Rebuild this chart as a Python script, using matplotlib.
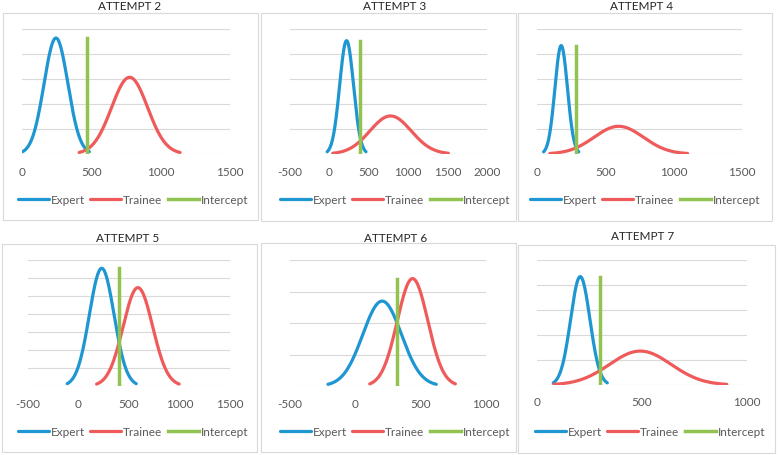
import numpy as np
import matplotlib
matplotlib.use('Agg')
import matplotlib.pyplot as plt
from matplotlib.patches import Rectangle

####################################################################################################
# data (normal curves: mean / sd per group, intercept position)
####################################################################################################
titles = ['ATTEMPT 2', 'ATTEMPT 3', 'ATTEMPT 4', 'ATTEMPT 5', 'ATTEMPT 6', 'ATTEMPT 7']
expert_mean = [245, 218, 177, 230, 205, 206]
expert_sd = [86, 88, 46, 122, 148, 46]
trainee_mean = [776, 776, 598, 588, 438, 492]
trainee_sd = [130, 262, 180, 146, 117, 147]
intercept = [466, 394, 284, 401, 320, 302]
x_min = [0, -500, 0, -500, -500, 0]
x_max = [1500, 2000, 1500, 1500, 1000, 1000]
y_top = [0.005, 0.005, 0.01, 0.0035, 0.004, 0.01]
y_step = [0.001, 0.001, 0.002, 0.0005, 0.001, 0.002]
span = 2.8  # curves are drawn over mean +/- 2.8 sd

####################################################################################################
# layout (pixels of a 779x455 image)
####################################################################################################
W, H = 779, 455
boxes = [(3, 13, 258, 220), (261, 13, 516, 221), (518, 13, 772, 221),
         (2, 244, 257, 452), (261, 243, 516, 452), (518, 245, 775, 453)]
plots = [(22, 29, 230, 154), (290, 29, 487, 154), (537, 29, 742, 154),
         (28, 260, 230, 386), (290, 260, 486, 386), (537, 260, 747, 385)]
title_pos = [(130, 6), (395, 6), (642, 6), (128, 238), (396, 238), (643, 236)]
legend_pos = [(133, 200), (395, 200), (645, 200), (133, 432), (395, 432), (650, 432)]

blue = '#1E96D2'
red = '#EF5B5B'
green = '#92C24F'
grid = '#D9D9D9'
txt = '#595959'

plt.rcParams['font.family'] = ['Lato', 'DejaVu Sans']
plt.rcParams['axes.unicode_minus'] = False

fig = plt.figure(figsize=(W / 100, H / 100), dpi=100)
fig.patch.set_facecolor('white')


def pdf(x, m, s):
    return np.exp(-0.5 * ((x - m) / s) ** 2) / (s * np.sqrt(2 * np.pi))


for i in range(6):
    bx0, by0, bx1, by1 = boxes[i]
    fig.patches.append(Rectangle((bx0 / W, 1 - by1 / H), (bx1 - bx0) / W, (by1 - by0) / H,
                                 transform=fig.transFigure, fill=False, edgecolor=grid, lw=0.8))
    px0, py0, px1, py1 = plots[i]
    ax = fig.add_axes([px0 / W, 1 - py1 / H, (px1 - px0) / W, (py1 - py0) / H])
    ax.set_facecolor('none')

    xe = np.linspace(expert_mean[i] - span * expert_sd[i], expert_mean[i] + span * expert_sd[i], 200)
    xt = np.linspace(trainee_mean[i] - span * trainee_sd[i], trainee_mean[i] + span * trainee_sd[i], 200)
    ye = pdf(xe, expert_mean[i], expert_sd[i])
    yt = pdf(xt, trainee_mean[i], trainee_sd[i])
    ax.plot(xe, ye, color=blue, lw=2.3, label='Expert', solid_capstyle='round', zorder=3)
    ax.plot(xt, yt, color=red, lw=2.3, label='Trainee', solid_capstyle='round', zorder=3)
    top = max(ye.max(), yt.max())
    ax.plot([intercept[i], intercept[i]], [0, top], color=green, lw=2.5, label='Intercept', zorder=4)

    ax.set_xlim(x_min[i], x_max[i])
    ax.set_ylim(0, y_top[i])
    ax.set_xticks(np.arange(x_min[i], x_max[i] + 1, 500))
    ax.set_yticks(np.arange(0, y_top[i] + y_step[i] / 2, y_step[i]))
    ax.set_yticklabels([])
    ax.grid(axis='y', color=grid, lw=0.8)
    ax.set_axisbelow(True)
    for sp in ax.spines.values():
        sp.set_visible(False)
    ax.tick_params(axis='both', length=0, labelsize=8.5, labelcolor=txt, pad=9)

    tx, ty = title_pos[i]
    fig.text(tx / W, 1 - ty / H, titles[i], ha='center', va='center', fontsize=8.5, color='#262626')

    lx, ly = legend_pos[i]
    leg = fig.legend(*ax.get_legend_handles_labels(), loc='center', bbox_to_anchor=(lx / W, 1 - ly / H),
                     ncol=3, frameon=False, fontsize=8.5, handlelength=2.6, handletextpad=0.15,
                     columnspacing=0.5, borderpad=0, borderaxespad=0)
    for t in leg.get_texts():
        t.set_color(txt)

fig.savefig('out.png', dpi=100, facecolor='white')
plt.close()
